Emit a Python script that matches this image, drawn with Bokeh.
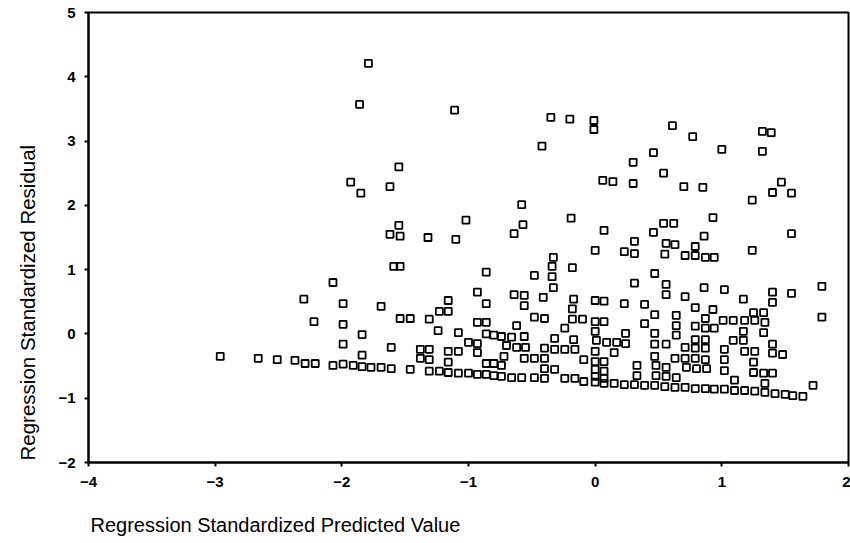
from bokeh.plotting import figure
from bokeh.models import FixedTicker, ColumnDataSource, Title
from bokeh.embed import file_html
from bokeh.resources import INLINE

# Regression standardized predicted value (x) and residual (y)
pred = [
    -1.79, -1.86, -1.11, -1.55, -1.93, -1.85, -1.62, -1.02, -1.55, -1.62, -1.54, -1.32, -1.10,
    -0.35, -0.20, -0.01, -0.01, 0.61, 0.77, 1.32, 1.39, -0.42, 0.46, 1.00, 1.32, 0.30, 0.54,
    0.06, 0.14, 0.30, 0.70, 0.85, 1.47, 1.40, 1.55, 1.24, -0.58, -0.57, -0.19, 0.07, 0.93,
    0.46, 0.54, 0.62, 0.86, 1.55, -0.64, 0.31, 0.56, 0.63, 0.79,
    0.00, 0.23, 0.31, 1.24, 0.55, 0.71, 0.79, 0.87, 0.94,
    -0.33, -0.34, -0.18, -0.48, -0.34, 0.47, -0.33, 0.31, 0.56, 0.86, 1.02, 1.79, -0.64, -0.56,
    -0.41, -0.17, 0.00, 0.07, 0.23, 0.39, 0.56, 0.71, 1.17, 1.40, 1.40, 1.55, -0.56, -0.18,
    0.79, 0.93, -0.48, -0.40, 0.47, 0.64, 1.25, 1.33, 1.79, -0.18, -0.10, 0.00, 0.07, 0.39,
    0.64, 0.87, 1.01, 1.09, 1.18, 1.26, 1.34, -0.62, -0.24, 0.00, 0.24, 0.47, 0.64, 0.79,
    0.87, 0.94, 1.17, 1.33, -0.74, -0.66, -0.56, -0.32, -0.17, 0.01, 0.09, 0.17, 0.24, 0.47,
    0.56, 0.79, 0.87, 1.09, 1.17, 1.40, -0.70, -0.62, -0.55, -0.40, -0.32, -0.24, -0.16, 0.00,
    0.15, 0.71, 0.79, 0.87, 1.02, 1.18, 1.26, 1.40, 1.48, -0.72, -0.56, -0.48, -0.40, -0.09,
    0.00, 0.07, 0.47, 0.63, 0.71, 0.79, 0.87, 1.02, 1.25, -0.74, -0.40, -0.32, 0.00, 0.07,
    0.33, 0.48, 0.56, 0.72, 0.80, 0.88, 1.02, 1.25, 1.33, 1.40, -0.74, -0.66, -0.58, -0.48,
    -0.40, -0.24, -0.16, -0.09, 0.00, 0.07, 0.33, 0.48, 0.56, 0.64, 1.10, 1.34, 1.72,
    0.00, 0.07, 0.15, 0.23, 0.31, 0.39, 0.47, 0.55, 0.63, 0.71, 0.79, 0.87, 0.94, 1.02, 1.10,
    1.18, 1.26, 1.34, 1.42, 1.50, 1.56, 1.64,
    -1.59, -1.54, -0.86, -2.07, -0.93, -2.30, -1.99, -1.69, -1.16, -0.86, -1.23, -1.16, -1.31,
    -1.54, -1.46, -2.22, -1.99, -0.93, -0.86, -1.24, -1.08, -1.84, -0.86, -0.80, -1.00, -0.93,
    -1.99, -1.61, -1.38, -1.31, -1.16, -1.08, -0.93, -1.84, -1.38, -1.31, -2.96, -2.66, -2.51,
    -2.37, -2.29, -2.21, -1.16, -0.86, -0.80, -2.07, -1.99, -1.91, -1.84, -1.77, -1.69, -1.61,
    -1.46, -1.31, -1.23, -1.16, -1.08, -1.00, -0.93, -0.86, -0.80,
]
resid = [
    4.21, 3.57, 3.48, 2.60, 2.36, 2.19, 2.29, 1.77, 1.69, 1.55, 1.52, 1.50, 1.47,
    3.37, 3.34, 3.32, 3.18, 3.24, 3.07, 3.15, 3.13, 2.92, 2.82, 2.87, 2.84, 2.67, 2.50,
    2.39, 2.37, 2.34, 2.29, 2.28, 2.36, 2.20, 2.19, 2.08, 2.01, 1.70, 1.80, 1.61, 1.81,
    1.58, 1.72, 1.72, 1.52, 1.56, 1.56, 1.44, 1.41, 1.39, 1.36,
    1.30, 1.28, 1.25, 1.30, 1.24, 1.22, 1.22, 1.19, 1.19,
    1.19, 1.05, 1.03, 0.91, 0.89, 0.94, 0.72, 0.79, 0.77, 0.72, 0.69, 0.74, 0.61, 0.60,
    0.57, 0.54, 0.52, 0.51, 0.47, 0.46, 0.61, 0.58, 0.54, 0.65, 0.49, 0.63, 0.44, 0.39,
    0.41, 0.38, 0.26, 0.24, 0.30, 0.29, 0.33, 0.33, 0.26, 0.23, 0.23, 0.19, 0.19, 0.16,
    0.13, 0.24, 0.21, 0.21, 0.21, 0.21, 0.18, 0.13, 0.09, 0.04, 0.01, 0.01, -0.02, 0.12,
    0.09, 0.09, 0.04, 0.02, -0.04, -0.05, -0.04, -0.07, -0.09, -0.10, -0.13, -0.13, -0.15, -0.16,
    -0.16, -0.09, -0.09, -0.10, -0.10, -0.16, -0.18, -0.21, -0.21, -0.22, -0.24, -0.24, -0.24, -0.27,
    -0.29, -0.21, -0.22, -0.22, -0.24, -0.27, -0.27, -0.30, -0.32, -0.35, -0.38, -0.38, -0.38, -0.40,
    -0.43, -0.43, -0.35, -0.38, -0.38, -0.38, -0.40, -0.40, -0.44, -0.49, -0.54, -0.55, -0.55, -0.58,
    -0.49, -0.49, -0.52, -0.52, -0.54, -0.54, -0.57, -0.60, -0.61, -0.61, -0.66, -0.68, -0.68, -0.68,
    -0.69, -0.69, -0.69, -0.74, -0.66, -0.69, -0.65, -0.65, -0.66, -0.68, -0.72, -0.77, -0.80,
    -0.75, -0.77, -0.77, -0.79, -0.79, -0.80, -0.80, -0.82, -0.83, -0.83, -0.85, -0.85, -0.86, -0.86, -0.88,
    -0.88, -0.89, -0.91, -0.93, -0.94, -0.96, -0.97,
    1.05, 1.05, 0.96, 0.80, 0.65, 0.54, 0.47, 0.43, 0.52, 0.47, 0.35, 0.35, 0.23,
    0.24, 0.24, 0.19, 0.15, 0.18, 0.18, 0.05, 0.02, -0.01, 0.00, -0.02, -0.13, -0.15,
    -0.16, -0.21, -0.24, -0.24, -0.27, -0.27, -0.29, -0.33, -0.38, -0.40, -0.35, -0.38, -0.40,
    -0.41, -0.46, -0.46, -0.44, -0.46, -0.46, -0.49, -0.47, -0.49, -0.51, -0.52, -0.52, -0.54,
    -0.55, -0.58, -0.58, -0.60, -0.61, -0.61, -0.63, -0.63, -0.65,
]

x_ticks = [-4, -3, -2, -1, 0, 1, 2]
y_ticks = [-2, -1, 0, 1, 2, 3, 4, 5]
x_label = "Regression Standardized Predicted Value"
y_label = "Regression Standardized Residual"

src = ColumnDataSource(data=dict(x=pred, y=resid))

p = figure(width=850, height=543, x_range=(-4, 2), y_range=(-2, 5),
           output_backend="svg", toolbar_location=None,
           min_border_left=88, min_border_right=2, min_border_top=12, min_border_bottom=81)

p.background_fill_color = "white"
p.border_fill_color = "white"
p.outline_line_color = "black"
p.outline_line_width = 2
p.xgrid.visible = False
p.ygrid.visible = False

for ax in (p.xaxis, p.yaxis):
    ax.axis_line_color = "black"
    ax.axis_line_width = 2
    ax.major_tick_line_color = "black"
    ax.major_tick_line_width = 2
    ax.major_tick_out = 4
    ax.major_tick_in = 0
    ax.minor_tick_line_color = None
    ax.major_label_text_font = "Liberation Sans"
    ax.major_label_text_font_style = "bold"
    ax.major_label_text_font_size = "15px"
    ax.major_label_text_color = "black"

p.xaxis.ticker = FixedTicker(ticks=x_ticks)
p.yaxis.ticker = FixedTicker(ticks=y_ticks)
p.xaxis.major_label_standoff = 10
p.yaxis.major_label_standoff = 9

# spacers push the axis titles outward, then the titles themselves
p.add_layout(Title(text=" ", standoff=6, text_font_size="14px", text_color="white"), "below")
p.add_layout(Title(text=x_label, align="left", offset=2, standoff=0, vertical_align="top",
                   text_font="Liberation Sans", text_font_style="normal",
                   text_font_size="20px", text_color="black"), "below")
p.add_layout(Title(text=" ", standoff=0, text_font_size="13px", text_color="white"), "left")
p.add_layout(Title(text=y_label, align="left", offset=2, standoff=0, vertical_align="bottom",
                   text_font="Liberation Sans", text_font_style="normal",
                   text_font_size="20.5px", text_color="black"), "left")

p.scatter(x="x", y="y", source=src, marker="square", size=7,
          fill_alpha=0, line_color="black", line_width=1.8)

open("out.html", "w").write(file_html(p, INLINE))
